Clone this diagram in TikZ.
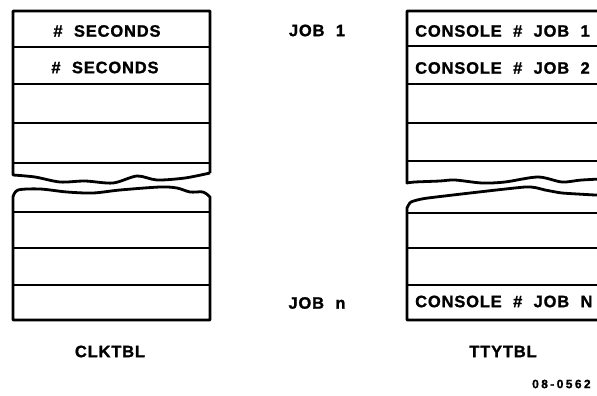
\documentclass[tikz,border=0pt]{standalone}
\usepackage{fontspec}
\newfontfamily\dwgfont{Liberation Sans}[LetterSpace=5,WordSpace=2.1,BoldFeatures={FakeBold=1.2}]
\begin{document}
\begin{tikzpicture}[x=1pt,y=-1pt,every node/.style={font=\dwgfont\bfseries\fontsize{16.5}{18}\selectfont,text=black,inner sep=0pt},frame/.style={draw=black,line width=2.8pt,line join=round},rowline/.style={draw=black,line width=2.2pt},wave/.style={smooth,tension=0.5}]
\useasboundingbox (0,0) rectangle (597,396);
\clip (0,0) rectangle (597,396);
% CLKTBL, upper part
\draw[frame] (210,173) -- (210,11) -- (13,11) -- (13,175) -- plot[wave] coordinates {(13,175) (35,177) (60,182) (85,181) (113,183) (137,176) (157,180) (185,178) (210,173)};
\foreach \y in {47,84,123,163}{\draw[rowline] (13,\y) -- (210,\y);}
% CLKTBL, lower part
\draw[frame] plot[wave] coordinates {(13,197) (18,190) (40,189) (67,192) (93,193) (120,190) (160,187) (177,188) (190,192) (203,192) (210,197)} -- (210,320) -- (13,320) -- cycle;
\foreach \y in {212,248,285}{\draw[rowline] (13,\y) -- (210,\y);}
% TTYTBL, upper part
\draw[frame] (620,178) -- (620,11) -- (407,11) -- (407,183) -- plot[wave] coordinates {(407,183) (415,182) (440,181) (455,180) (482,183) (505,182) (538,177) (562,182) (582,180) (620,178)};
\foreach \y in {46,84,123,161}{\draw[rowline] (407,\y) -- (620,\y);}
% TTYTBL, lower part
\draw[frame] plot[smooth,tension=0.3] coordinates {(407,208) (411,202) (428,198) (525,187) (545,190) (562,193) (595,195) (620,196)} -- (620,320) -- (407,320) -- cycle;
\foreach \y in {213,248,285}{\draw[rowline] (407,\y) -- (620,\y);}
% labels
\node (sec1) at (107,31) {\# SECONDS};
\node (sec2) at (105,67.5) {\# SECONDS};
\node (clktbl) at (110,351.5) {CLKTBL};
\node (job1) at (317,30.5) {JOB 1};
\node (jobn) at (317,303) {JOB n};
\node[anchor=west] (con1) at (415,31) {CONSOLE \# JOB 1};
\node[anchor=west] (con2) at (415,68) {CONSOLE \# JOB 2};
\node[anchor=west] (conn) at (415,301.5) {CONSOLE \# JOB N};
\node (ttytbl) at (503,351.5) {TTYTBL};
\node[anchor=west,font=\dwgfont\bfseries\fontsize{12}{14}\selectfont\addfontfeature{LetterSpace=20}] (dwgno) at (532,384) {08-0562};
\end{tikzpicture}
\end{document}
